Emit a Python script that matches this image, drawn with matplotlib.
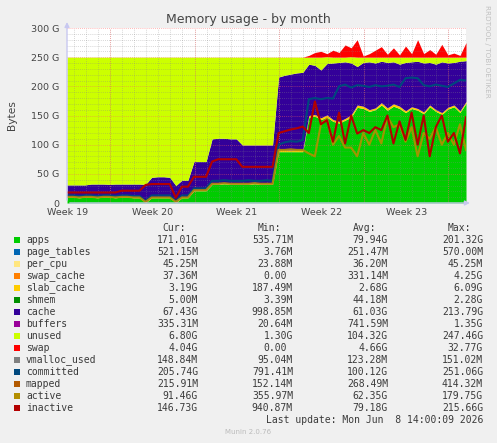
import numpy as np
import matplotlib
matplotlib.use('Agg')
import matplotlib.pyplot as plt
from matplotlib.patches import Rectangle

# time axis: days since the start of week 19, one sample every 12 h
days = np.arange(0, 33.5, 0.5)

# stacked areas (GB)
apps = [10, 10, 9, 10, 10, 9, 10, 10, 9, 10, 10, 9, 9,
        0.5,
        9, 9, 9, 9,
        0.5,
        9, 9,
        21, 21, 21,
        32, 32, 33, 32, 32, 32, 32, 33, 32, 32, 32,
        88, 88, 88, 88, 88,
        147, 149, 143, 147, 140, 137, 142, 147, 164, 162, 157, 160, 168, 159,
        166, 162, 155, 162, 159, 153, 165, 157, 152, 161, 165, 155, 171]
slab_cache = [1] * 35 + [3, 3, 3, 3, 3,
              3, 3, 3, 4, 3, 3, 3, 4, 4, 4, 3, 3, 4, 4,
              4, 4, 3, 3, 3, 3, 3, 3, 3, 3, 3, 3, 3]
cache = [20, 20, 21, 20, 21.5, 22.5, 21.5, 21, 22.5, 21.5, 21.5, 22.5, 22.5,
         30.5,
         34, 35, 35, 34,
         28.5,
         29, 29,
         49, 49, 49,
         77, 78, 77, 77, 77, 66.5, 66.5, 65.5, 66.5, 66.5, 66.5,
         125, 128, 130, 132, 133,
         88, 84, 82, 88, 97, 101, 97, 89, 66, 75, 82, 77, 71, 78,
         72, 72, 83, 77, 81, 84, 73, 78, 87, 76, 73, 85, 70]
unused = [219, 219, 219, 219, 217.5, 217.5, 217.5, 218, 217.5, 217.5, 217.5, 217.5, 217.5,
          218,
          206, 205, 205, 206,
          220,
          211, 211,
          179, 179, 179,
          140, 139, 139, 140, 140, 150.5, 150.5, 150.5, 150.5, 150.5, 150.5,
          34, 31, 29, 27, 26,
          12, 14, 22, 12, 10, 9, 8, 11, 16, 9, 8, 10, 7, 9,
          8, 12, 9, 8, 7, 10, 9, 12, 8, 10, 9, 7, 6]
swap = [0] * 40 + [3, 8, 10, 5, 12, 8, 21, 15, 30, 2, 6, 12, 18, 5,
                   16, 4, 19, 6, 30, 6, 13, 5, 22, 4, 7, 3, 25]

# lines (GB)
committed = [13, 13, 12, 13, 13, 12, 13, 13, 12, 13, 13, 12, 12,
             3,
             13, 13, 13, 13,
             3,
             13, 13,
             25, 25, 25,
             38, 38, 39, 38, 38, 38, 39, 38, 38, 39, 38,
             100, 104, 106, 105, 108,
             178, 180, 178, 180, 179, 200, 203, 198, 202, 201, 199, 202, 200, 201,
             203, 199, 214, 215, 214, 202, 200, 203, 201, 199, 205, 211, 210]
active = [10.5, 10.5, 9.5, 10.5, 10.5, 9.5, 10.5, 10.5, 9.5, 10.5, 10.5, 9.5, 9.5,
          2,
          9.5, 9.5, 9.5, 9.5,
          2,
          9.5, 9.5,
          22, 22, 22,
          33, 33, 34, 33, 33, 33, 33, 34, 33, 33, 33,
          91, 91, 92, 91, 91,
          85, 80, 135, 145, 100, 115, 95, 95, 80, 120, 100, 125, 102, 148,
          130, 135, 105, 130, 80, 120, 110, 130, 100, 120, 100, 135, 91]
inactive = [18, 18, 18, 18, 18, 18, 18, 18, 18, 21, 21, 21, 21,
            31,
            32.5, 32.5, 32.5, 32.5,
            9,
            28, 28,
            45, 45, 45,
            71, 75, 75, 75, 75, 62, 62, 62, 62, 62, 62,
            120, 123, 126, 128, 131,
            120, 174, 135, 142, 105, 155, 102, 150, 119, 125, 120, 130, 125, 150,
            102, 140, 108, 155, 100, 150, 80, 130, 150, 105, 120, 85, 147]

names = ['apps', 'page_tables', 'per_cpu', 'swap_cache', 'slab_cache', 'shmem', 'cache',
         'buffers', 'unused', 'swap', 'vmalloc_used', 'committed', 'mapped', 'active', 'inactive']
colors = ['#00CC00', '#0066B3', '#FFE680', '#FF8000', '#FFCC00', '#008F00', '#330099',
          '#990099', '#CCFF00', '#FF0000', '#808080', '#00487D', '#B35A00', '#B38F00', '#B30000']
cur = ['171.01G', '521.15M', '45.25M', '37.36M', '3.19G', '5.00M', '67.43G', '335.31M',
       '6.80G', '4.04G', '148.84M', '205.74G', '215.91M', '91.46G', '146.73G']
mins = ['535.71M', '3.76M', '23.88M', '0.00', '187.49M', '3.39M', '998.85M', '20.64M',
        '1.30G', '0.00', '95.04M', '791.41M', '152.14M', '355.97M', '940.87M']
avgs = ['79.94G', '251.47M', '36.20M', '331.14M', '2.68G', '44.18M', '61.03G', '741.59M',
        '104.32G', '4.66G', '123.28M', '100.12G', '268.49M', '62.35G', '79.18G']
maxs = ['201.32G', '570.00M', '45.25M', '4.25G', '6.09G', '2.28G', '213.79G', '1.35G',
        '247.46G', '32.77G', '151.02M', '251.06G', '414.32M', '179.75G', '215.66G']

week_labels = ['Week 19', 'Week 20', 'Week 21', 'Week 22', 'Week 23']

W, H = 497, 443
fig = plt.figure(figsize=(W / 100, H / 100), dpi=100, facecolor='#F0F0F0')
ax = fig.add_axes([67 / W, 1 - 203 / H, 399 / W, 175 / H])
ax.set_facecolor('white')

# stacked areas
base = np.zeros(len(days))
for vals, c in [(apps, colors[0]), (slab_cache, colors[4]), (cache, colors[6]),
                (unused, colors[8]), (swap, colors[9])]:
    top = base + np.array(vals, dtype=float)
    ax.fill_between(days, base, top, color=c, lw=0, zorder=1)
    base = top

# grid
for d in np.arange(0.55, 33, 1.0):
    ax.axvline(d, color='#888888', alpha=0.45, lw=0.6, ls=(0, (1, 1.5)), zorder=2)
for d in np.arange(3.55, 33, 7.0):
    ax.axvline(d, color='#FF6060', alpha=0.6, lw=0.6, ls=(0, (1, 1.5)), zorder=2)
for g in range(10, 300, 10):
    if g % 50:
        ax.axhline(g, color='#888888', alpha=0.45, lw=0.6, ls=(0, (1, 1.5)), zorder=2)
for g in range(50, 301, 50):
    ax.axhline(g, color='#FF6060', alpha=0.6, lw=0.6, ls=(0, (1, 1.5)), zorder=2)

# lines
ax.plot(days, committed, color=colors[11], lw=1.5, zorder=3)
ax.plot(days, active, color=colors[13], lw=1.5, alpha=0.9, zorder=3)
ax.plot(days, inactive, color=colors[14], lw=1.5, zorder=3)

ax.set_xlim(0, 33)
ax.set_ylim(0, 300)
for s in ax.spines.values():
    s.set_visible(False)

ax.set_yticks(range(0, 301, 50))
ax.set_yticklabels(['0'] + [f'{v} G' for v in range(50, 301, 50)])
ax.set_xticks(np.arange(0.05, 33, 7.0))
ax.set_xticklabels(week_labels)
ax.tick_params(axis='y', length=0, pad=5.5, labelsize=6.8, labelcolor='#444444')
ax.tick_params(axis='x', length=0, pad=3.5, labelsize=6.8, labelcolor='#444444')
ax.set_ylabel('Bytes', fontsize=7.7, color='#444444', labelpad=10)

# axis lines with arrows
ax.annotate('', xy=(0, 315), xytext=(0, 0), annotation_clip=False,
            arrowprops=dict(arrowstyle='-|>', color='#C8C8F0', lw=1, mutation_scale=7))
ax.annotate('', xy=(33.55, 0), xytext=(0, 0), annotation_clip=False,
            arrowprops=dict(arrowstyle='-|>', color='#C8C8F0', lw=1, mutation_scale=7))

fig.text(0.5, 1 - 19 / H, 'Memory usage - by month', ha='center', va='center',
         fontsize=9, color='#444444')
fig.text(487 / W, 1 - 5 / H, 'RRDTOOL / TOBI OETIKER', rotation=-90, ha='center', va='top',
         fontsize=5.2, color='#C0C0C0')

# legend table
mono = dict(family='DejaVu Sans Mono', fontsize=7.05, color='#3a3a3a', va='center')
col_right = [198, 293, 388, 483]
for h, xr in zip(['Cur:', 'Min:', 'Avg:', 'Max:'], col_right):
    fig.text((xr - 12) / W, 1 - 228 / H, h, ha='right', **mono)
for i, n in enumerate(names):
    y = 240 + 12 * i
    fig.text(26 / W, 1 - y / H, n, ha='left', **mono)
    for vals, xr in zip([cur, mins, avgs, maxs], col_right):
        v = vals[i]
        shift = 0 if v[-1] in 'GM' else 6
        fig.text((xr - shift) / W, 1 - y / H, v, ha='right', **mono)
    fig.add_artist(Rectangle((14 / W, 1 - (y + 3) / H), 6 / W, 6 / H,
                             transform=fig.transFigure, color=colors[i], lw=0))
fig.text(483 / W, 1 - 420 / H, 'Last update: Mon Jun  8 14:00:09 2026', ha='right', **mono)
fig.text(0.5, 1 - 432 / H, 'Munin 2.0.76', ha='center', va='center', fontsize=5, color='#BBBBBB')

fig.savefig('out.png', dpi=100, facecolor='#F0F0F0')
